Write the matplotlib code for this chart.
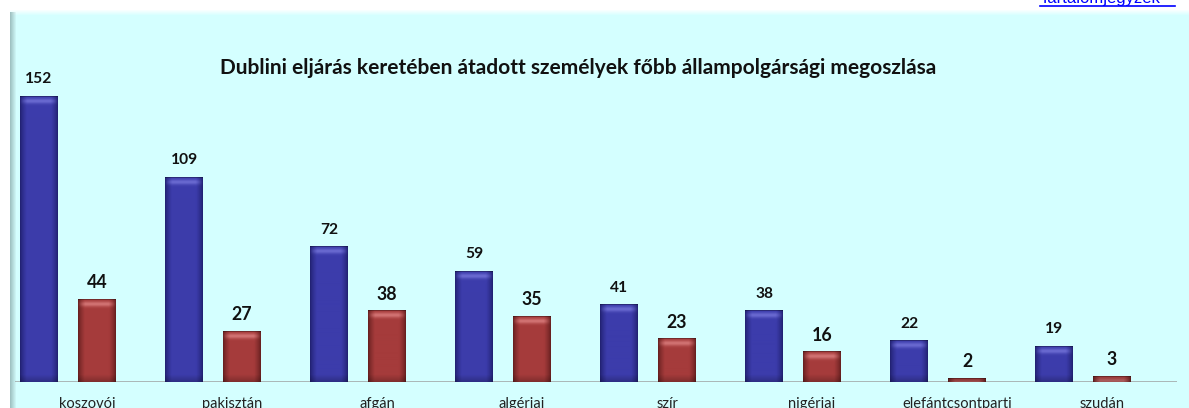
import numpy as np
import matplotlib
matplotlib.use("Agg")
import matplotlib.pyplot as plt
from matplotlib.colors import to_rgb
from matplotlib.lines import Line2D

# Data
categories = ["koszovói", "pakisztán", "afgán", "algériai", "szír",
              "nigériai", "elefántcsontparti", "szudán"]
series_a = [152, 109, 72, 59, 41, 38, 22, 19]
series_b = [44, 27, 38, 35, 23, 16, 2, 3]
title = "Dublini eljárás keretében átadott személyek főbb állampolgársági megoszlása"

W, H = 1189, 408
fig = plt.figure(figsize=(W / 100, H / 100), dpi=100)
fig.patch.set_facecolor("white")

PANEL = np.array(to_rgb("#d4ffff"))

# Background panel with soft top edge and grey left border
bg = fig.add_axes([0, 0, 1, 1])
bg.set_xlim(0, W)
bg.set_ylim(H, 0)
bg.axis("off")
img = np.ones((H, W, 3))
img[:, :] = PANEL
yy = np.arange(H)[:, None]
top = np.clip((yy - 9) / 6.0, 0, 1)
img = img * top[..., None] + np.ones(3) * (1 - top[..., None])
img[:9, :] = 1.0
xx = np.arange(W)[None, :]
border = np.clip((xx - 10) / 6.0, 0, 1)
edge = np.array(to_rgb("#9fc2c2"))
mask_left = (xx >= 10) & (yy >= 12)
mix = np.where(mask_left, border, 1.0)
img = img * mix[..., None] + edge * (1 - mix[..., None])
img[:, :10] = 1.0
img[:9, :] = 1.0
bg.imshow(img, extent=(0, W, H, 0), aspect="auto", interpolation="bilinear", zorder=0)

# Link text at the top right (mostly clipped by the figure edge)
fig.text(1040 / W, 1 - 2.5 / H, "Tartalomjegyzék", color="#0000ff", fontsize=12,
         family="Liberation Sans", ha="left", va="baseline")
fig.add_artist(Line2D([1040 / W, 1175 / W], [1 - 5.5 / H, 1 - 5.5 / H],
                      color="#0000ff", lw=1.2, transform=fig.transFigure))

# Plot area
x0, x1 = 15, 1177
ybase, ytop = 381.5, 12
ax = fig.add_axes([x0 / W, 1 - ybase / H, (x1 - x0) / W, (ybase - ytop) / H])
ax.patch.set_alpha(0)
ax.set_xlim(-0.497, 7.517)
ax.set_ylim(0, 196.6)
for s in ax.spines.values():
    s.set_visible(False)
ax.set_xticks([])
ax.set_yticks([])
ax.axhline(0, color="#a3aaaa", lw=1.2, zorder=1)

x = np.arange(len(categories))
bw = 0.262
px_per_unit = (ybase - ytop) / 196.6


def shade_bar(patch, base, dark, light):
    bx, by = patch.get_x(), patch.get_y()
    w, h = patch.get_width(), patch.get_height()
    hp = max(int(round(h * px_per_unit)), 2)
    wp = 38
    u = (np.arange(wp) + 0.5) / wp
    prof = np.clip(np.minimum(u, 1 - u) / 0.18, 0, 1) ** 0.7
    base = np.array(to_rgb(base))
    dark = np.array(to_rgb(dark))
    light = np.array(to_rgb(light))
    col = dark[None, :] * (1 - prof[:, None]) + base[None, :] * prof[:, None]
    arr = np.repeat(col[None, :, :], hp, axis=0)
    r = np.arange(hp)[:, None]
    # light cap near the top
    cap = np.exp(-((r - 4.5) / 2.6) ** 2) * np.clip(np.minimum(u, 1 - u) / 0.2, 0, 1)[None, :]
    arr = arr * (1 - 0.75 * cap[..., None]) + light * 0.75 * cap[..., None]
    # thin dark rim on top and slight darkening towards the base
    arr[0] = arr[0] * 0.7
    fade = np.clip((r - (hp - 8)) / 8.0, 0, 1) * 0.25
    arr = arr * (1 - fade[..., None])
    im = ax.imshow(arr, extent=(bx, bx + w, by, by + h), aspect="auto",
                   interpolation="bilinear", zorder=3, origin="upper")
    im.set_clip_path(patch)


bars_a = ax.bar(x - 0.331, series_a, bw, color="#3a3aa6", zorder=2, lw=0)
bars_b = ax.bar(x + 0.069, series_b, bw, color="#a33a3a", zorder=2, lw=0)
for p in bars_a:
    shade_bar(p, "#3c3cab", "#1e1e6a", "#7878dc")
for p in bars_b:
    shade_bar(p, "#a53b3b", "#5e1c1c", "#e08585")

lab_kw = dict(fontweight="bold", family="Lato", ha="center",
              va="baseline", textcoords="offset points", color="#111111")
for xi, v in zip(x - 0.331, series_a):
    ax.annotate(str(v), (xi, v), xytext=(0, 9), fontsize=11.2, **lab_kw)
for xi, v in zip(x + 0.069, series_b):
    ax.annotate(str(v), (xi, v), xytext=(0, 7.5), fontsize=12.8, **lab_kw)

# Category labels below the baseline
for xi, c in zip(x, categories):
    ax.annotate(c, (xi, 0), xytext=(0, -11), textcoords="offset points",
                ha="center", va="top", fontsize=10.5, family="Lato", color="#222222")

fig.text(578 / W, 1 - 74 / H, title, ha="center", va="baseline",
         fontsize=15, fontweight="bold", family="Lato", color="#111111")

fig.savefig("out.png", dpi=100)
